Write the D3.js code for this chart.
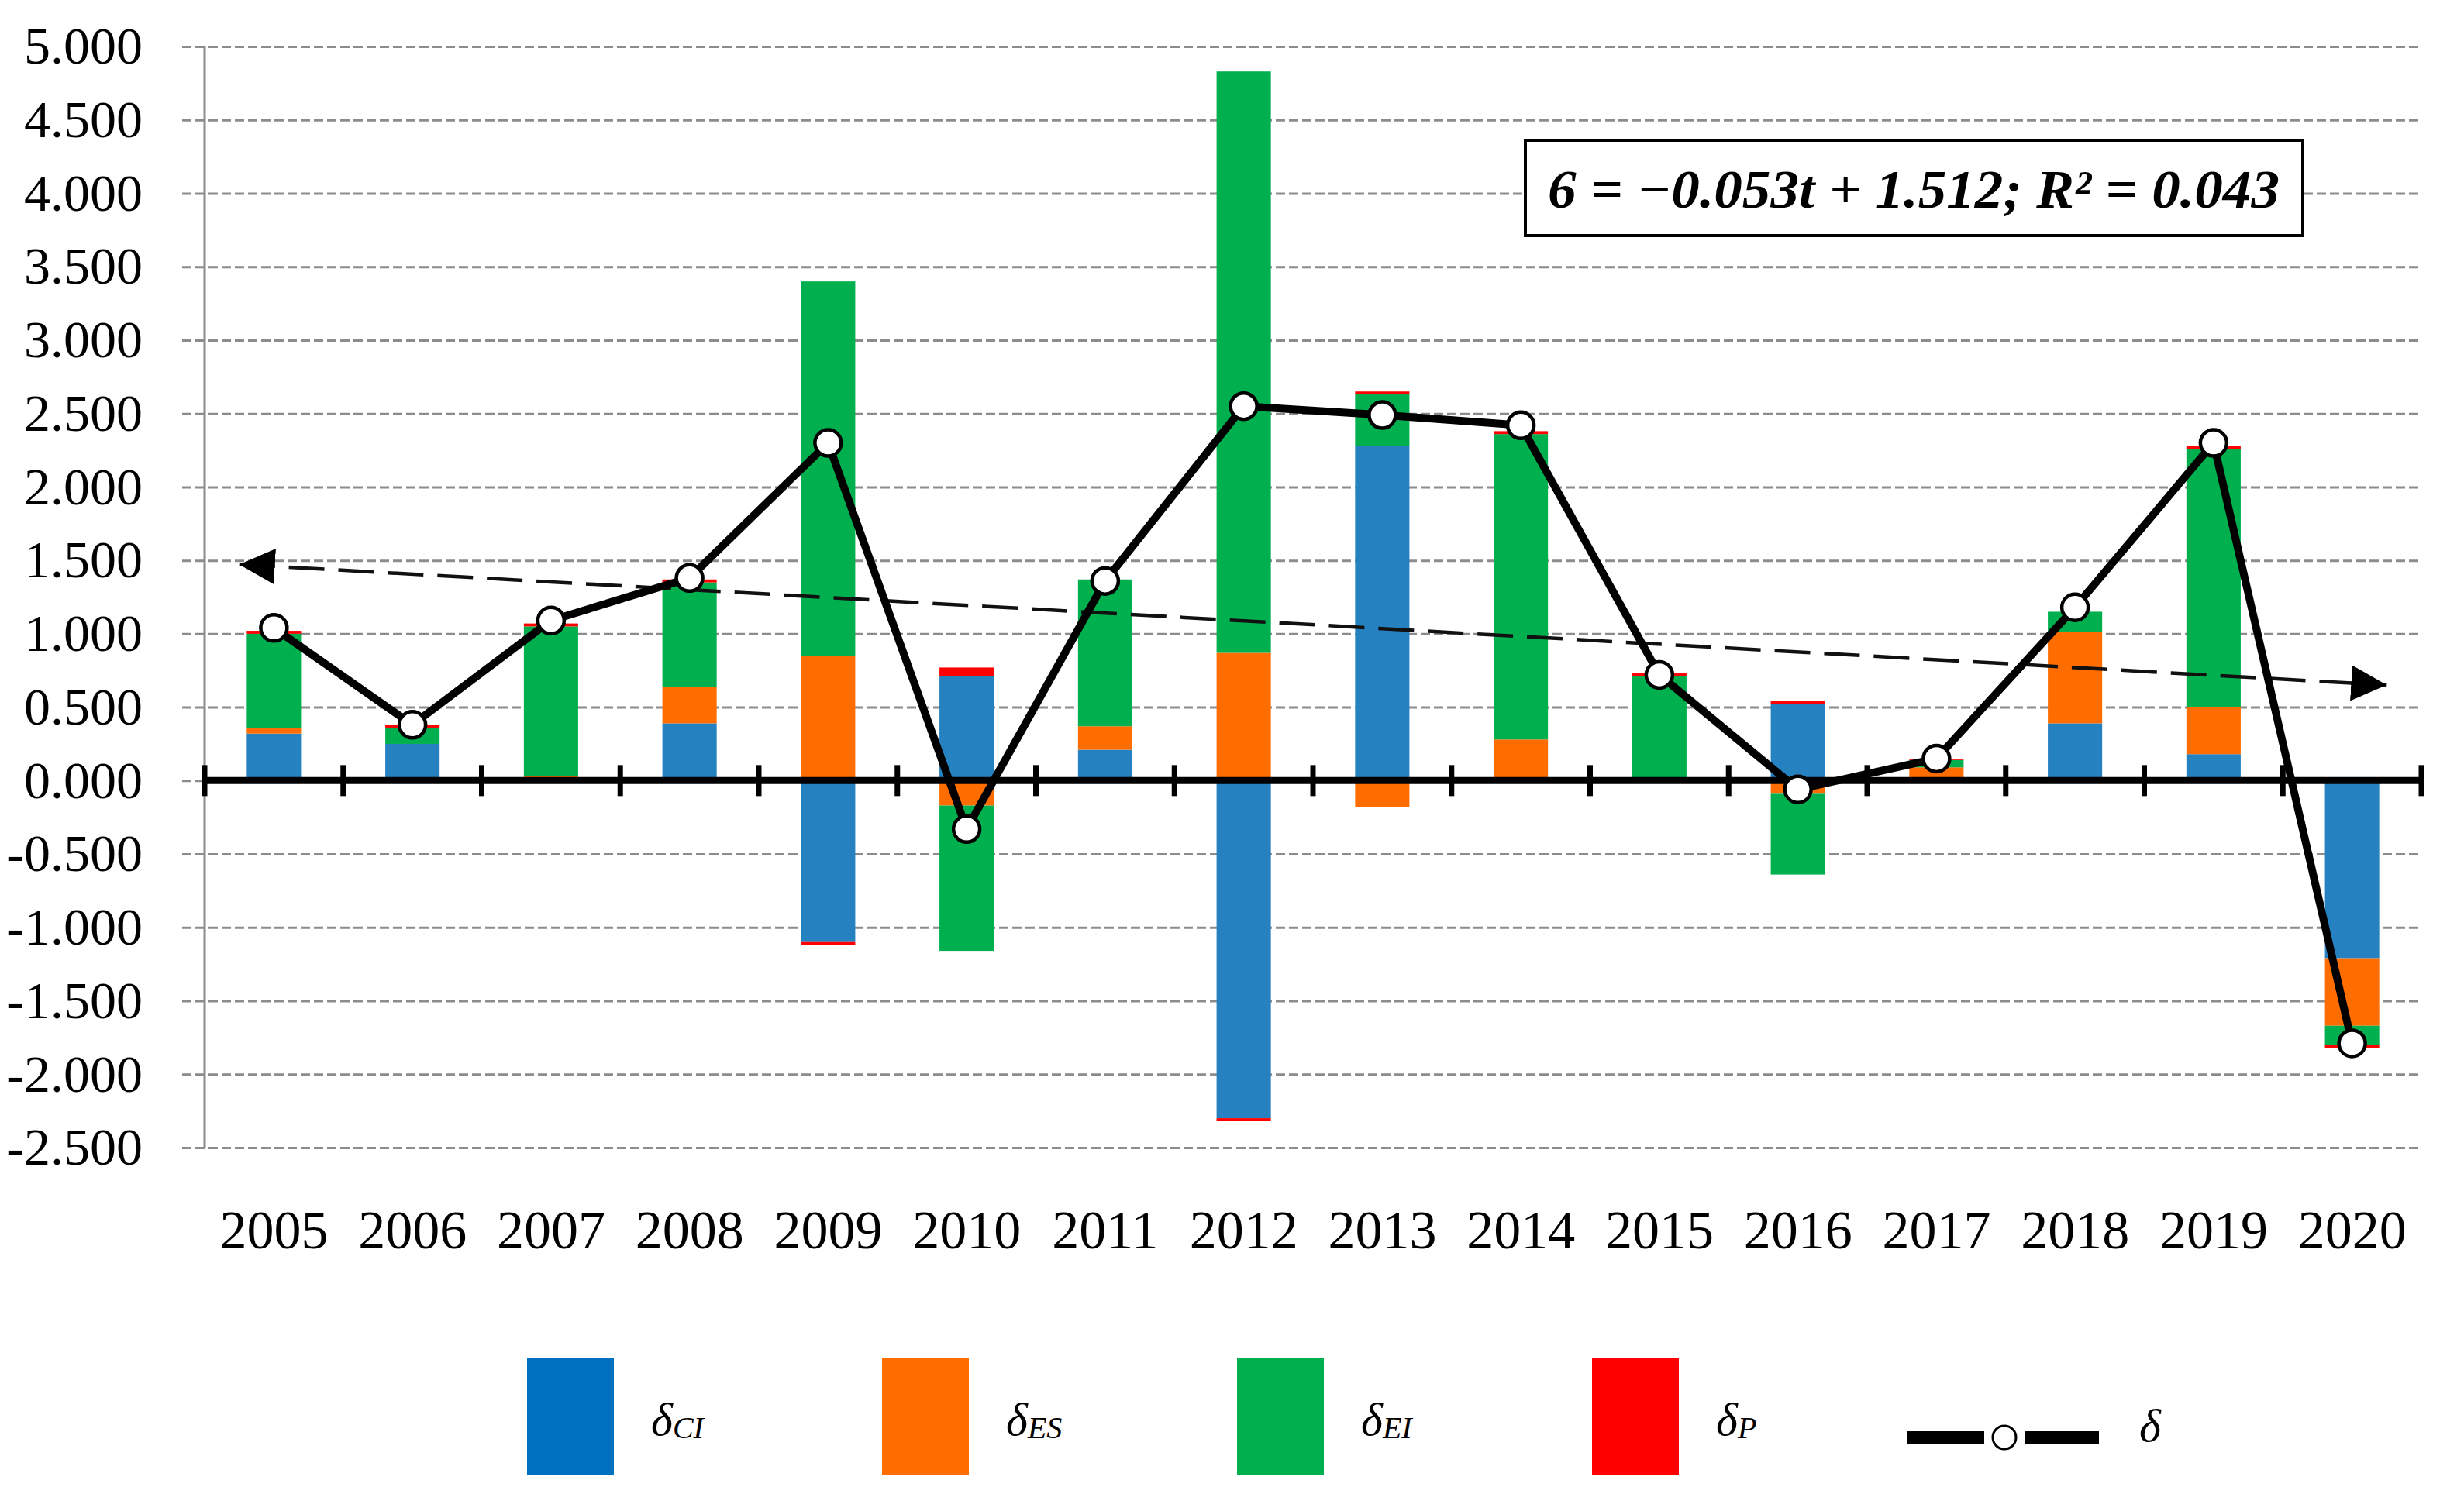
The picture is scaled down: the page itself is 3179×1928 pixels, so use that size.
<!DOCTYPE html>
<html>
<head>
<meta charset="utf-8">
<script src="https://cdn.jsdelivr.net/npm/d3@7"></script>
<style>
  body { margin: 0; background: #fff; }
  svg { display: block; }
  text { font-family: "Liberation Serif", "Times New Roman", serif; fill: #000; }
</style>
</head>
<body>
<svg id="chart" width="3179" height="1928"></svg>
<script>
// values
const years = ['2005', '2006', '2007', '2008', '2009', '2010', '2011', '2012',
  '2013', '2014', '2015', '2016', '2017', '2018', '2019', '2020'];
const dCI = [0.32, 0.25, 0.00, 0.39, -1.10, 0.71, 0.21, -2.30, 2.28, 0.00, 0.00, 0.52, 0.00, 0.39, 0.18, -1.21];
const dES = [0.04, 0.00, 0.03, 0.25, 0.85, -0.17, 0.16, 0.87, -0.18, 0.28, 0.00, -0.09, 0.09, 0.62, 0.32, -0.46];
const dEI = [0.64, 0.11, 1.02, 0.71, 2.55, -0.99, 1.00, 3.96, 0.35, 2.08, 0.71, -0.55, 0.05, 0.14, 1.76, -0.13];
const dP = [0.02, 0.02, 0.02, 0.02, -0.02, 0.06, 0.00, -0.02, 0.02, 0.02, 0.02, 0.02, 0.005, 0.00, 0.02, -0.02];
const delta = [1.04, 0.38, 1.09, 1.38, 2.30, -0.33, 1.36, 2.55, 2.49, 2.42, 0.72, -0.06, 0.15, 1.18, 2.30, -1.79];
const yTicks = [-2.5, -2, -1.5, -1, -0.5, 0, 0.5, 1, 1.5, 2, 2.5, 3, 3.5, 4, 4.5, 5];

// trendline shown in the box, drawn a quarter period past both ends
const trendSlope = -0.053, trendIntercept = 1.512, trendExtend = 0.25;
const equation = '6 = \u22120.053t + 1.512; R\u00b2 = 0.043';

const keys = ['CI', 'ES', 'EI', 'P'];
const barColor = { CI: '#2681c1', ES: '#ff6d00', EI: '#00b04f', P: '#ff0000' };
const legendColor = { CI: '#0070c0', ES: '#ff6d00', EI: '#00b04f', P: '#ff0000' };

const table = years.map((yr, i) => ({ year: yr, CI: dCI[i], ES: dES[i], EI: dEI[i], P: dP[i], delta: delta[i] }));

const svg = d3.select('#chart');
const left = 264, right = 3124;

const x = d3.scaleBand()
  .domain(years)
  .range([left, right])
  .paddingInner(0.608)
  .paddingOuter(0.304);

const y = d3.scaleLinear()
  .domain([-2.5, 5])
  .range([1481, 60]);

const cx = d => x(d) + x.bandwidth() / 2;

// gridlines + y labels
const yAxis = svg.append('g')
  .attr('transform', 'translate(235,0)')
  .call(d3.axisLeft(y)
    .tickValues(yTicks)
    .tickSize(-(right - 235))
    .tickPadding(51)
    .tickFormat(d => d.toFixed(3)));
yAxis.select('.domain').remove();
yAxis.selectAll('line')
  .attr('stroke', '#8c8c8c')
  .attr('stroke-width', 3)
  .attr('stroke-dasharray', '12,5');
yAxis.selectAll('text')
  .style('font-size', '68px')
  .style('font-family', '"Liberation Serif", serif');

// stacked bars
const stack = d3.stack().keys(keys).offset(d3.stackOffsetDiverging);
const series = stack(table);

svg.append('g')
  .selectAll('g')
  .data(series)
  .join('g')
  .attr('fill', s => barColor[s.key])
  .selectAll('rect')
  .data(s => s)
  .join('rect')
  .attr('x', d => x(d.data.year))
  .attr('width', x.bandwidth())
  .attr('y', d => y(Math.max(d[0], d[1])))
  .attr('height', d => Math.abs(y(d[0]) - y(d[1])));

// vertical axis line
svg.append('line')
  .attr('x1', left).attr('x2', left)
  .attr('y1', y(5)).attr('y2', y(-2.5))
  .attr('stroke', '#8c8c8c')
  .attr('stroke-width', 3);

// zero line with category ticks
const y0 = y(0);
svg.append('line')
  .attr('x1', left).attr('x2', right)
  .attr('y1', y0).attr('y2', y0)
  .attr('stroke', '#000')
  .attr('stroke-width', 9);

const step = x.step();
svg.append('g')
  .selectAll('line')
  .data(d3.range(years.length + 1))
  .join('line')
  .attr('x1', i => left + i * step)
  .attr('x2', i => left + i * step)
  .attr('y1', y0 - 20)
  .attr('y2', y0 + 20)
  .attr('stroke', '#000')
  .attr('stroke-width', 7);

// year labels
const xAxis = svg.append('g')
  .attr('transform', `translate(0,${y(-2.5)})`)
  .call(d3.axisBottom(x).tickSize(0).tickPadding(80));
xAxis.select('.domain').remove();
xAxis.selectAll('text')
  .style('font-size', '70px')
  .style('font-family', '"Liberation Serif", serif');

// trend line with arrows at both ends
const defs = svg.append('defs');
defs.append('marker')
  .attr('id', 'arrow')
  .attr('markerUnits', 'userSpaceOnUse')
  .attr('viewBox', '0 0 10 10')
  .attr('refX', 10).attr('refY', 5)
  .attr('markerWidth', 46).attr('markerHeight', 46)
  .attr('orient', 'auto-start-reverse')
  .append('path')
  .attr('d', 'M0,0L10,5L0,10Z')
  .attr('fill', '#000');

const tScale = d3.scaleLinear()
  .domain([1, years.length])
  .range([cx(years[0]), cx(years[years.length - 1])]);
const trendT = [1 - trendExtend, years.length + trendExtend];

svg.append('path')
  .datum(trendT)
  .attr('d', d3.line()
    .x(t => tScale(t))
    .y(t => y(trendSlope * t + trendIntercept)))
  .attr('fill', 'none')
  .attr('stroke', '#111')
  .attr('stroke-width', 4.5)
  .attr('stroke-dasharray', '46,18')
  .attr('marker-start', 'url(#arrow)')
  .attr('marker-end', 'url(#arrow)');

// delta line
svg.append('path')
  .datum(table)
  .attr('d', d3.line()
    .x(d => cx(d.year))
    .y(d => y(d.delta)))
  .attr('fill', 'none')
  .attr('stroke', '#000')
  .attr('stroke-width', 10)
  .attr('stroke-linejoin', 'round');

svg.append('g')
  .selectAll('circle')
  .data(table)
  .join('circle')
  .attr('cx', d => cx(d.year))
  .attr('cy', d => y(d.delta))
  .attr('r', 17)
  .attr('fill', '#fff')
  .attr('stroke', '#000')
  .attr('stroke-width', 4.5);

// equation box
svg.append('rect')
  .attr('x', 1968).attr('y', 181)
  .attr('width', 1003).attr('height', 123)
  .attr('fill', '#fff')
  .attr('stroke', '#000')
  .attr('stroke-width', 4);
svg.append('text')
  .attr('x', 1997).attr('y', 268)
  .attr('textLength', 944)
  .attr('lengthAdjust', 'spacingAndGlyphs')
  .style('font-size', '70px')
  .style('font-style', 'italic')
  .style('font-weight', 'bold')
  .text(equation);

// legend
const legend = svg.append('g');
const legStep = 458, legX = 680;
keys.forEach((k, i) => {
  const lx = legX + i * legStep;
  legend.append('rect')
    .attr('x', lx).attr('y', 1752)
    .attr('width', 112).attr('height', 152)
    .attr('fill', legendColor[k]);
  const t = legend.append('text')
    .attr('x', lx + 160).attr('y', 1852)
    .style('font-style', 'italic')
    .style('font-size', '60px');
  t.append('tspan').text('\u03b4');
  t.append('tspan')
    .style('font-size', '40px')
    .attr('dy', 4)
    .text(k);
});

const ly = 1855;
legend.append('line')
  .attr('x1', 2461).attr('x2', 2560)
  .attr('y1', ly).attr('y2', ly)
  .attr('stroke', '#000').attr('stroke-width', 16);
legend.append('line')
  .attr('x1', 2612).attr('x2', 2708)
  .attr('y1', ly).attr('y2', ly)
  .attr('stroke', '#000').attr('stroke-width', 16);
legend.append('circle')
  .attr('cx', 2586).attr('cy', ly)
  .attr('r', 15)
  .attr('fill', '#fff')
  .attr('stroke', '#000')
  .attr('stroke-width', 3);
legend.append('text')
  .attr('x', 2760).attr('y', 1860)
  .style('font-style', 'italic')
  .style('font-size', '60px')
  .text('\u03b4');
</script>
</body>
</html>
